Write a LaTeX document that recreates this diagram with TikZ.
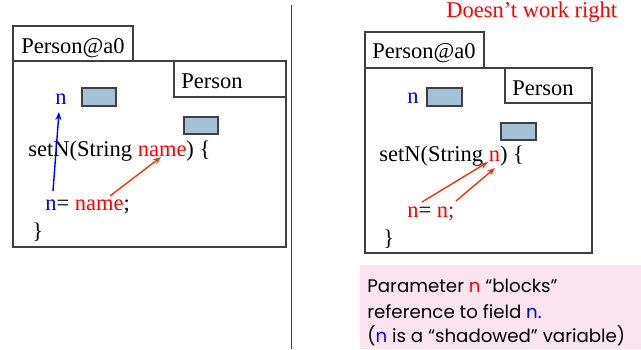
\documentclass[tikz,border=0pt]{standalone}
\usepackage{fontspec}
\setmainfont{Liberation Serif}
\newfontfamily\notefont{Poppins}
\usetikzlibrary{arrows.meta}

\definecolor{boxline}{gray}{0.25}
\definecolor{slotfill}{HTML}{A5C1D8}
\definecolor{linkred}{HTML}{E8380D}
\definecolor{notepink}{HTML}{F9E4F0}
\definecolor{semipurple}{HTML}{7A1F7A}

\begin{document}
\begin{tikzpicture}[x=0.5pt,y=-0.5pt,
    frame/.style={draw=boxline,line width=0.8pt},
    slot/.style={draw=boxline,fill=slotfill,line width=0.6pt},
    code/.style={anchor=base west,inner sep=0pt,font=\fontsize{11.25}{13}\selectfont},
    note/.style={anchor=base west,inner sep=0pt,font=\notefont\fontsize{9.1}{12}\selectfont},
    link/.style={line width=0.7pt,-{Stealth[length=4pt,width=3pt]}}]

    % these coordinates fix the picture's total size
    \useasboundingbox (0,0) rectangle (641,349);

    % divider
    \draw[boxline,line width=0.5pt] (291,5) -- (291,349);

    % left object
    \begin{scope}
    \draw[frame] (13,26) rectangle (133,61);
    \draw[frame] (13,61) rectangle (286,247);
    \draw[frame] (174,61) rectangle (286,97);
    \node[code] (lobj) at (21,53) {Person@a0};
    \node[code] (lcls) at (181,88) {Person};
    \node[code,blue] (lfield) at (55,104) {n};
    \draw[slot] (82,88) rectangle (116,106);
    \draw[slot] (184,117) rectangle (218,134);
    \node[code] (lhead) at (28,156) {setN(String \textcolor{red}{name}) \{};
    \node[code] (lbody) at (45,210) {\textcolor{blue}{n}= \textcolor{red}{name};};
    \node[code] (lend) at (32,238) {\}};
    \end{scope}

    % left links
    \coordinate (lfrom) at (53,191); \coordinate (lto) at (59,112);
    \draw[link,blue] (lfrom) -- (lto);
    \coordinate (lname) at (110,196); \coordinate (lparam) at (161,157);
    \draw[link,linkred] (lname) -- (lparam);

    % right object
    \node[code,red] (title) at (446,17) {Doesn’t work right};
    \begin{scope}
    \draw[frame] (365,32) rectangle (484,68);
    \draw[frame] (365,68) rectangle (592,253);
    \draw[frame] (505,68) rectangle (592,103);
    \node[code] (robj) at (372,58) {Person@a0};
    \node[code] (rcls) at (512,95) {Person};
    \node[code,blue] (rfield) at (407,103) {n};
    \draw[slot] (427,88) rectangle (462,106);
    \draw[slot] (501,123) rectangle (536,140);
    \node[code] (rhead) at (379,161) {setN(String \textcolor{red}{n}) \{};
    \node[code] (rbody) at (407,217) {\textcolor{red}{n}= \textcolor{red}{n}\textcolor{semipurple}{;}};
    \node[code] (rend) at (383,245) {\}};
    \end{scope}

    % right links
    \coordinate (rleft) at (422,202); \coordinate (rparamA) at (488,162);
    \coordinate (rright) at (456,201); \coordinate (rparamB) at (495,168);
    \draw[link,linkred] (rleft) -- (rparamA);
    \draw[link,linkred] (rright) -- (rparamB);

    % note
    \fill[notepink] (360,265) rectangle (641,349);
    \node[note] (note1) at (367,292) {Parameter \textcolor{red}{n} “blocks”};
    \node[note] (note2) at (367,318) {reference to field \textcolor{blue}{n.}};
    \node[note] (note3) at (367,342) {(\textcolor{blue}{n} is a “shadowed” variable)};

\end{tikzpicture}
\end{document}
